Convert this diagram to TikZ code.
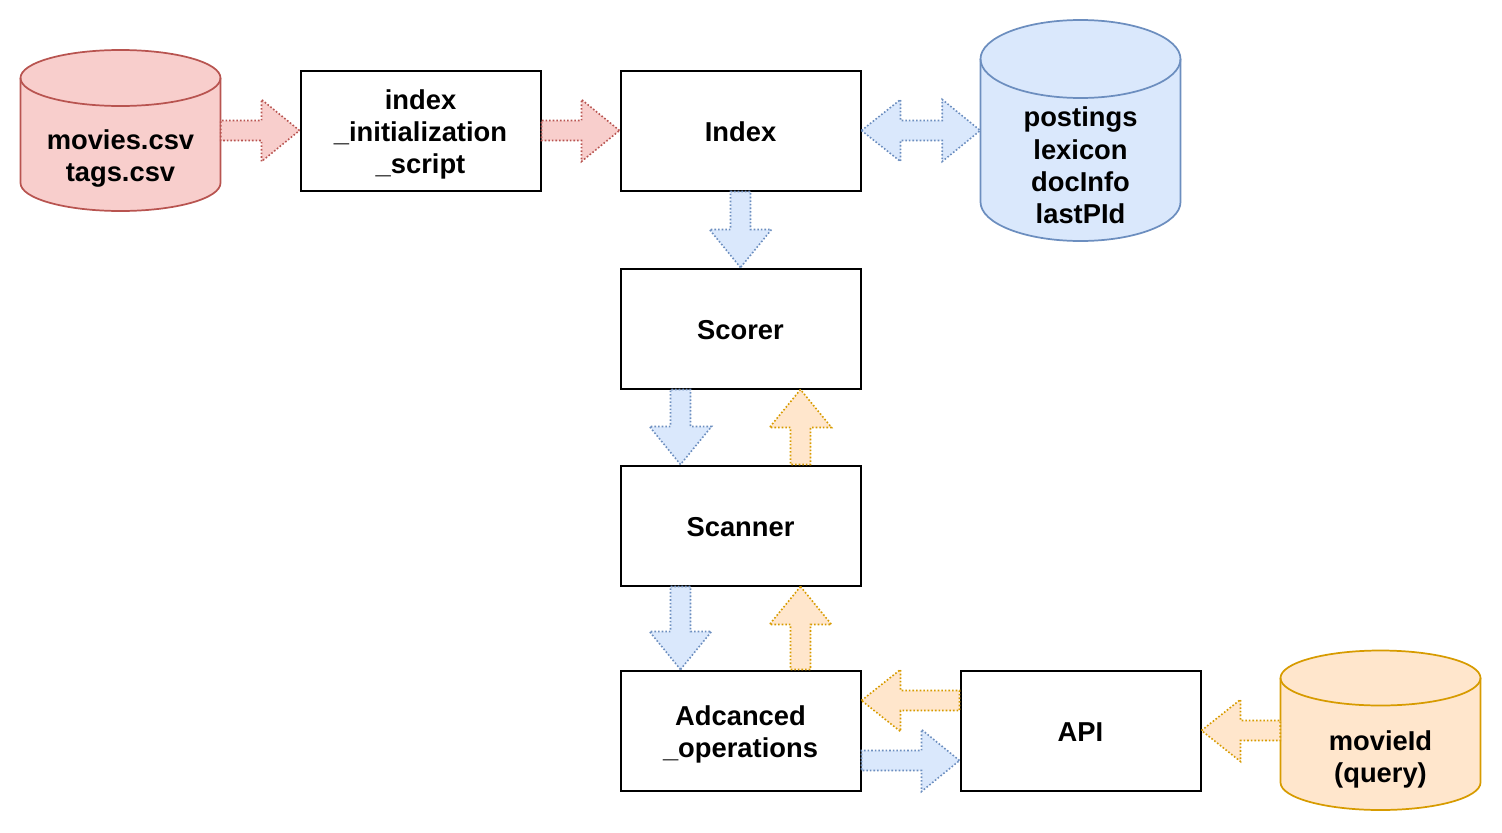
\documentclass[tikz,border=0pt]{standalone}
\usepackage{fontspec}
\usepackage{array}
\setmainfont{Liberation Sans}
\usetikzlibrary{calc}

\definecolor{redfill}{HTML}{F8CECC}
\definecolor{redline}{HTML}{B85450}
\definecolor{bluefill}{HTML}{DAE8FC}
\definecolor{blueline}{HTML}{6C8EBF}
\definecolor{orangefill}{HTML}{FFE6CC}
\definecolor{orangeline}{HTML}{D79B00}

% text lines of 24pt each, block centred in the node
\newcommand{\linestrut}{\rule[-3.5pt]{0pt}{24pt}}
\newcolumntype{L}{@{}>{\linestrut}c@{}}
\renewcommand{\arraystretch}{0.5}
\newcommand{\textlines}[1]{\begin{tabular}{L}#1\end{tabular}}

\tikzset{
  stage/.style={draw, line width=1.5pt, minimum width=180pt, minimum height=90pt},
  storetext/.style={minimum width=150pt, inner sep=0pt},
  redstore/.style={draw=redline, fill=redfill, line width=1.3pt},
  bluestore/.style={draw=blueline, fill=bluefill, line width=1.3pt},
  orangestore/.style={draw=orangeline, fill=orangefill, line width=1.3pt},
  fatarrow/.style={line width=1.2pt, dash pattern=on 1.2pt off 1.5pt, line join=miter},
  redarrow/.style={fatarrow, draw=redline, fill=redfill},
  bluearrow/.style={fatarrow, draw=blueline, fill=bluefill},
  orangearrow/.style={fatarrow, draw=orangeline, fill=orangefill}
}

\begin{document}
\begin{tikzpicture}[x=0.75pt, y=0.75pt, yscale=-1,
    every node/.style={font=\bfseries\fontsize{20.5}{24}\selectfont, inner ysep=0pt}]

    \useasboundingbox (0,0) rectangle (1502,832);

    % data stores
    \filldraw[redstore] (20.5,78) -- (20.5,183) arc[start angle=180, end angle=0, x radius=100, y radius=28]
        -- (220.5,78) arc[start angle=0, end angle=-180, x radius=100, y radius=28] -- cycle;
    \draw[redstore, fill=none] (20.5,78) arc[start angle=180, end angle=0, x radius=100, y radius=28];

    \filldraw[bluestore] (980.5,59) -- (980.5,202) arc[start angle=180, end angle=0, x radius=100, y radius=39]
        -- (1180.5,59) arc[start angle=0, end angle=-180, x radius=100, y radius=39] -- cycle;
    \draw[bluestore, fill=none] (980.5,59) arc[start angle=180, end angle=0, x radius=100, y radius=39];

    \filldraw[orangestore] (1280.5,678) -- (1280.5,782.5) arc[start angle=180, end angle=0, x radius=100, y radius=27.5]
        -- (1480.5,678) arc[start angle=0, end angle=-180, x radius=100, y radius=27.5] -- cycle;
    \draw[orangestore, fill=none] (1280.5,678) arc[start angle=180, end angle=0, x radius=100, y radius=27.5];

    \node[storetext] (movies) at (120.5,155) {\textlines{movies.csv\\tags.csv}};
    \node[storetext] (postings) at (1080.5,164) {\textlines{postings\\lexicon\\docInfo\\lastPId}};
    \node[storetext] (movieid) at (1380.5,755.5) {\textlines{movieId\\(query)}};

    % processing steps
    \node[stage] (init) at (420.5,130.5) {\textlines{index\\\_initialization\\\_script}};
    \node[stage] (index) at (740.5,130.5) {\textlines{Index}};
    \node[stage] (scorer) at (740.5,328.5) {\textlines{Scorer}};
    \node[stage] (scanner) at (740.5,525.5) {\textlines{Scanner}};
    \node[stage] (adv) at (740.5,730.5) {\textlines{Adcanced\\\_operations}};
    \node[stage] (api) at (1080.5,730.5) {\textlines{API}};

    % indexing
    \filldraw[redarrow] (init.west) -- ++(-38,-31) -- ++(0,21) -- ($(movies.east |- init.west)+(0,-10)$)
        -- ++(0,20) -- ($(init.west)+(-38,10)$) -- ++(0,21) -- cycle;
    \filldraw[redarrow] (index.west) -- ++(-38,-31) -- ++(0,21) -- ($(init.east |- index.west)+(0,-10)$)
        -- ++(0,20) -- ($(index.west)+(-38,10)$) -- ++(0,21) -- cycle;
    \filldraw[bluearrow] (index.east) -- ++(39,-31) -- ++(0,21) -- ($(postings.west |- index.east)+(-38,-10)$)
        -- ++(0,-21) -- (postings.west |- index.east) -- ++(-38,31) -- ++(0,-21)
        -- ($(index.east)+(39,10)$) -- ++(0,21) -- cycle;
    \filldraw[bluearrow] (scorer.north) -- ++(-31,-38) -- ++(21,0) -- ($(index.south)+(-10,0)$)
        -- ++(20,0) -- ($(scorer.north)+(10,-38)$) -- ++(21,0) -- cycle;

    % query path
    \filldraw[bluearrow] ($(scanner.north)+(-60,0)$) -- ++(-31,-38) -- ++(21,0) -- ($(scorer.south)+(-70,0)$)
        -- ++(20,0) -- ($(scanner.north)+(-50,-38)$) -- ++(21,0) -- cycle;
    \filldraw[orangearrow] ($(scorer.south)+(60,0)$) -- ++(-31,38) -- ++(21,0) -- ($(scanner.north)+(50,0)$)
        -- ++(20,0) -- ($(scorer.south)+(70,38)$) -- ++(21,0) -- cycle;
    \filldraw[bluearrow] ($(adv.north)+(-60,0)$) -- ++(-31,-38) -- ++(21,0) -- ($(scanner.south)+(-70,0)$)
        -- ++(20,0) -- ($(adv.north)+(-50,-38)$) -- ++(21,0) -- cycle;
    \filldraw[orangearrow] ($(scanner.south)+(60,0)$) -- ++(-31,38) -- ++(21,0) -- ($(adv.north)+(50,0)$)
        -- ++(20,0) -- ($(scanner.south)+(70,38)$) -- ++(21,0) -- cycle;
    \filldraw[orangearrow] ($(adv.east)+(0,-30)$) -- ++(39,-31) -- ++(0,21) -- ($(api.west)+(0,-40)$)
        -- ++(0,20) -- ($(adv.east)+(39,-20)$) -- ++(0,21) -- cycle;
    \filldraw[bluearrow] ($(api.west)+(0,30)$) -- ++(-38,-31) -- ++(0,21) -- ($(adv.east)+(0,20)$)
        -- ++(0,20) -- ($(api.west)+(-38,40)$) -- ++(0,21) -- cycle;
    \filldraw[orangearrow] (api.east) -- ++(39,-31) -- ++(0,21) -- ($(movieid.west |- api.east)+(0,-10)$)
        -- ++(0,20) -- ($(api.east)+(39,10)$) -- ++(0,21) -- cycle;

\end{tikzpicture}
\end{document}
